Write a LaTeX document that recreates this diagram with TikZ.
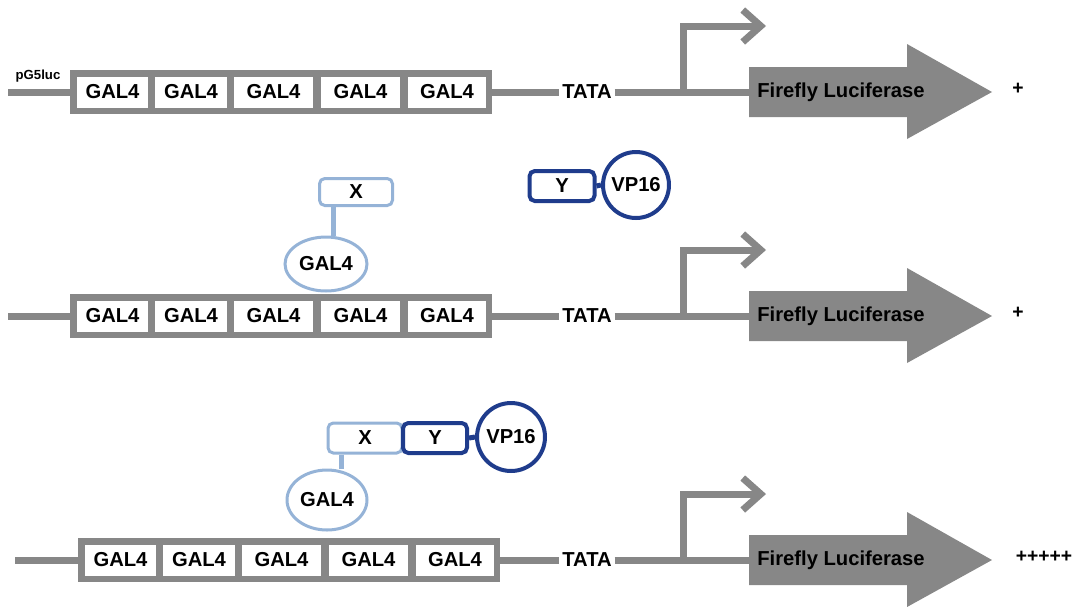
\documentclass[tikz,border=0pt]{standalone}
\usepackage{fontspec}
\setmainfont{Liberation Sans}
\usepackage{tikz}
\usetikzlibrary{arrows.meta,shapes.geometric}
\definecolor{dnagray}{HTML}{878787}
\definecolor{lightblue}{HTML}{95B3D7}
\definecolor{darkblue}{HTML}{1F3C8C}

\begin{document}
\begin{tikzpicture}[x=0.02cm, y=-0.02cm, font=\bfseries\fontsize{11.5}{13}\selectfont,
  dna/.style={draw=dnagray, line width=0.14cm},
  frame/.style={fill=dnagray, minimum width=8.44cm, minimum height=0.88cm, inner sep=0},
  site/.style={fill=white, minimum height=0.62cm, inner sep=0},
  lbl/.style={inner sep=1.5pt},
  xdom/.style={draw=lightblue, line width=0.06cm, rounded corners=3pt, fill=white, inner sep=0},
  gdom/.style={ellipse, draw=lightblue, line width=0.06cm, fill=white, inner sep=0},
  ydom/.style={draw=darkblue, line width=0.08cm, rounded corners=3pt, fill=white, inner sep=0},
  vpdom/.style={circle, draw=darkblue, line width=0.08cm, fill=white, inner sep=0, minimum size=1.32cm},
  lblink/.style={draw=lightblue, line width=0.1cm},
  dblink/.style={draw=darkblue, line width=0.1cm},
  score/.style={font=\bfseries\fontsize{11}{12}\selectfont}]
\useasboundingbox (0,0) rectangle (1077,606);

% three copies of the reporter
\foreach \r/\c/\s/\b in {1/92/0/8, 2/316/0/8, 3/560/8/15}{
  \node[frame] (frame\r) at (281+\s,\c) {};
  \foreach \i/\x/\w in {1/112.5/1.42, 2/191/1.44, 3/273.5/1.58, 4/360.5/1.58, 5/447/1.56}
    \node[site, minimum width=\w cm] (site\r-\i) at (\x+\s,\c) {GAL4};
  \coordinate (start\r) at (\b,\c);
  \draw[dna] (start\r) -- (frame\r.west);
  \node[lbl] (tata\r) at (587,\c) {TATA};
  \draw[dna] (frame\r.east) -- (tata\r.west);
  % luciferase
  \fill[dnagray] (749,\c-25) -- (907,\c-25) -- (907,\c-48) -- (992,\c)
    -- (907,\c+47) -- (907,\c+25) -- (749,\c+25) -- cycle;
  \node[anchor=west, inner sep=0] (luc\r) at (757,\c) {Firefly Luciferase};
  \draw[dna] (tata\r.east) -- (luc\r.west);
  % start site
  \coordinate (tss\r) at (683,\c);
  \coordinate (tip\r) at (766,\c-66);
  \draw[dna, -{Straight Barb[length=0.36cm, width=0.64cm]}] (tss\r) |- (tip\r);
}

\node[font=\bfseries\fontsize{7.5}{8}\selectfont] (name) at (38,76) {pG5luc};
\node[score] (out1) at (1018,89) {+};
\node[score] (out2) at (1018,313) {+};
\node[score] (out3) at (1044,557) {+++++};

% GAL4-X alone, Y-VP16 free
\node[xdom, minimum width=1.46cm, minimum height=0.54cm] (x2) at (356,192) {X};
\node[gdom, minimum width=1.64cm, minimum height=1.08cm] (gal2) at (326,264) {GAL4};
\draw[lblink] ([xshift=0.3cm]x2.south west) -- ([xshift=0.3cm]x2.south west |- gal2.north);
\node[ydom, minimum width=1.3cm, minimum height=0.6cm] (y2) at (562,186) {Y};
\node[vpdom] (vp2) at (636,185) {VP16};
\draw[dblink] (y2.east) -- (vp2.west);

% X and Y bound
\node[xdom, minimum width=1.48cm, minimum height=0.6cm] (x3) at (365,438) {X};
\node[gdom, minimum width=1.6cm, minimum height=1.2cm] (gal3) at (327,500) {GAL4};
\draw[lblink] ([xshift=0.3cm]x3.south west) -- ([xshift=0.3cm]x3.south west |- gal3.north);
\node[ydom, minimum width=1.28cm, minimum height=0.6cm] (y3) at (435,438) {Y};
\node[vpdom, minimum size=1.36cm] (vp3) at (511,437) {VP16};
\draw[dblink] (y3.east) -- (vp3.west);

\end{tikzpicture}
\end{document}
